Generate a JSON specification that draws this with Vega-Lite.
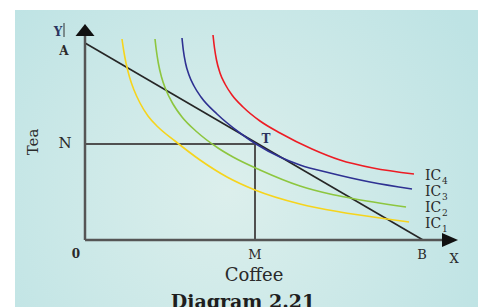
{
  "$schema": "https://vega.github.io/schema/vega-lite/v6.json",
  "width": 478,
  "height": 307,
  "padding": 0,
  "autosize": {"type": "none"},
  "background": "#ffffff",
  "config": {"view": {"stroke": null}},
  "datasets": {
    "panel": [{"x": -70, "x2": 393, "y": -67, "y2": 230}],
    "curves": [
      {"ic": "IC1", "x": 37, "y": 201}, {"ic": "IC1", "x": 38.6, "y": 190}, {"ic": "IC1", "x": 41, "y": 177}, {"ic": "IC1", "x": 44.5, "y": 163}, {"ic": "IC1", "x": 49, "y": 150}, {"ic": "IC1", "x": 55, "y": 137}, {"ic": "IC1", "x": 63, "y": 124}, {"ic": "IC1", "x": 73, "y": 113}, {"ic": "IC1", "x": 90, "y": 99}, {"ic": "IC1", "x": 115, "y": 80}, {"ic": "IC1", "x": 142, "y": 63}, {"ic": "IC1", "x": 170, "y": 50}, {"ic": "IC1", "x": 215, "y": 36}, {"ic": "IC1", "x": 255, "y": 28}, {"ic": "IC1", "x": 302, "y": 21}, {"ic": "IC1", "x": 324, "y": 18},
      {"ic": "IC2", "x": 70, "y": 201}, {"ic": "IC2", "x": 71.3, "y": 190}, {"ic": "IC2", "x": 73.3, "y": 177}, {"ic": "IC2", "x": 76.5, "y": 163}, {"ic": "IC2", "x": 81, "y": 150}, {"ic": "IC2", "x": 88, "y": 136}, {"ic": "IC2", "x": 97, "y": 123}, {"ic": "IC2", "x": 112, "y": 108}, {"ic": "IC2", "x": 133, "y": 92}, {"ic": "IC2", "x": 148, "y": 83}, {"ic": "IC2", "x": 175, "y": 70}, {"ic": "IC2", "x": 215, "y": 54}, {"ic": "IC2", "x": 245, "y": 46}, {"ic": "IC2", "x": 265, "y": 42}, {"ic": "IC2", "x": 321, "y": 33},
      {"ic": "IC3", "x": 97, "y": 202}, {"ic": "IC3", "x": 98.3, "y": 190}, {"ic": "IC3", "x": 100.5, "y": 177}, {"ic": "IC3", "x": 104, "y": 165}, {"ic": "IC3", "x": 109, "y": 154}, {"ic": "IC3", "x": 116, "y": 143}, {"ic": "IC3", "x": 132, "y": 126}, {"ic": "IC3", "x": 155, "y": 107}, {"ic": "IC3", "x": 171, "y": 96}, {"ic": "IC3", "x": 195, "y": 83}, {"ic": "IC3", "x": 215, "y": 75}, {"ic": "IC3", "x": 245, "y": 67}, {"ic": "IC3", "x": 285, "y": 58}, {"ic": "IC3", "x": 327, "y": 51},
      {"ic": "IC4", "x": 128, "y": 205}, {"ic": "IC4", "x": 129.5, "y": 192}, {"ic": "IC4", "x": 131.5, "y": 180}, {"ic": "IC4", "x": 135, "y": 167}, {"ic": "IC4", "x": 140, "y": 156}, {"ic": "IC4", "x": 147, "y": 145}, {"ic": "IC4", "x": 158, "y": 133}, {"ic": "IC4", "x": 175, "y": 119}, {"ic": "IC4", "x": 195, "y": 107}, {"ic": "IC4", "x": 227, "y": 91}, {"ic": "IC4", "x": 255, "y": 80}, {"ic": "IC4", "x": 288, "y": 72}, {"ic": "IC4", "x": 329, "y": 66}
    ],
    "budget": [{"x": 0, "y": 197}, {"x": 338, "y": 0}],
    "guides": [{"x": 0, "y": 96, "x2": 170, "y2": 96}, {"x": 170, "y": 96, "x2": 170, "y2": 0}],
    "axes": [{"x": 0, "y": 0, "x2": 0, "y2": 205}, {"x": 0, "y": 0, "x2": 358, "y2": 0}],
    "ybar": [{"x": -21, "y": 203, "x2": -21, "y2": 217}],
    "arrows": [{"dir": "up", "x": 0, "y": 210}, {"dir": "right", "x": 365, "y": 0}],
    "iclabels": [
      {"label": "IC", "num": "4", "x": 340, "y": 64},
      {"label": "IC", "num": "3", "x": 340, "y": 48},
      {"label": "IC", "num": "2", "x": 340, "y": 32},
      {"label": "IC", "num": "1", "x": 340, "y": 16}
    ]
  },
  "encoding": {
    "x": {"field": "x", "type": "quantitative", "scale": {"domain": [-85, 393], "nice": false, "zero": false}, "axis": null},
    "y": {"field": "y", "type": "quantitative", "scale": {"domain": [-67, 240], "nice": false, "zero": false}, "axis": null}
  },
  "layer": [
    {
      "data": {"name": "panel"},
      "mark": {"type": "rect", "color": {"gradient": "radial", "x1": 0.46, "y1": 0.57, "x2": 0.46, "y2": 0.57, "r1": 0, "r2": 0.62, "stops": [{"offset": 0, "color": "#dcefec"}, {"offset": 1, "color": "#bee3e4"}]}},
      "encoding": {"x2": {"field": "x2"}, "y2": {"field": "y2"}}
    },
    {
      "data": {"name": "guides"},
      "mark": {"type": "rule", "color": "#505050", "strokeWidth": 2},
      "encoding": {"x2": {"field": "x2"}, "y2": {"field": "y2"}}
    },
    {
      "data": {"name": "budget"},
      "mark": {"type": "line", "color": "#262626", "strokeWidth": 1.6},
      "encoding": {}
    },
    {
      "data": {"name": "curves"},
      "mark": {"type": "line", "strokeWidth": 1.6, "interpolate": "monotone"},
      "encoding": {
        "color": {"field": "ic", "type": "nominal", "scale": {"domain": ["IC1", "IC2", "IC3", "IC4"], "range": ["#f6d41c", "#8dc63f", "#2e3192", "#ed1c24"]}, "legend": null},
        "order": {"field": "x", "type": "quantitative"}
      }
    },
    {
      "data": {"name": "axes"},
      "mark": {"type": "rule", "color": "#555555", "strokeWidth": 2.5},
      "encoding": {"x2": {"field": "x2"}, "y2": {"field": "y2"}}
    },
    {
      "data": {"name": "ybar"},
      "mark": {"type": "rule", "color": "#333333", "strokeWidth": 1},
      "encoding": {"x2": {"field": "x2"}, "y2": {"field": "y2"}}
    },
    {
      "data": {"name": "arrows"},
      "mark": {"type": "point", "filled": true, "size": 400, "color": "#111111", "opacity": 1},
      "encoding": {
        "shape": {"field": "dir", "type": "nominal", "scale": {"domain": ["up", "right"], "range": ["M-0.95,0.6L0,-0.6L0.95,0.6Z", "M-0.8,-0.7L0.8,0L-0.8,0.7Z"]}, "legend": null}
      }
    },
    {
      "data": {"values": [{"label": "N", "x": -20, "y": 97}]},
      "mark": {"type": "text", "font": "DejaVu Serif", "fontSize": 15, "color": "#2a2a2a", "baseline": "middle", "align": "center"},
      "encoding": {"text": {"field": "label"}}
    },
    {
      "data": {"values": [{"label": "M", "x": 170, "y": -15}, {"label": "B", "x": 337, "y": -15}, {"label": "X", "x": 369, "y": -19}]},
      "mark": {"type": "text", "font": "DejaVu Serif", "fontSize": 13, "color": "#2a2a2a", "baseline": "middle", "align": "center"},
      "encoding": {"text": {"field": "label"}}
    },
    {
      "data": {"values": [{"label": "A", "x": -21, "y": 189}, {"label": "0", "x": -9, "y": -14}]},
      "mark": {"type": "text", "font": "DejaVu Serif", "fontSize": 12, "fontWeight": "bold", "color": "#2a2a2a", "baseline": "middle", "align": "center"},
      "encoding": {"text": {"field": "label"}}
    },
    {
      "data": {"values": [{"label": "Y", "x": -27, "y": 208}, {"label": "T", "x": 181, "y": 101}]},
      "mark": {"type": "text", "font": "DejaVu Serif", "fontSize": 12, "fontWeight": "bold", "color": "#2b3560", "baseline": "middle", "align": "center"},
      "encoding": {"text": {"field": "label"}}
    },
    {
      "data": {"values": [{"label": "Tea", "x": -52, "y": 98}]},
      "mark": {"type": "text", "font": "DejaVu Serif", "fontSize": 15, "angle": 270, "color": "#2a2a2a", "baseline": "middle", "align": "center"},
      "encoding": {"text": {"field": "label"}}
    },
    {
      "data": {"values": [{"label": "Coffee", "x": 169, "y": -41}]},
      "mark": {"type": "text", "font": "DejaVu Serif", "fontSize": 18, "color": "#2a2a2a", "baseline": "alphabetic", "align": "center"},
      "encoding": {"text": {"field": "label"}}
    },
    {
      "data": {"values": [{"label": "Diagram 2.21", "x": 158, "y": -68}]},
      "mark": {"type": "text", "font": "DejaVu Serif", "fontSize": 19, "fontWeight": "bold", "color": "#1e1e1e", "baseline": "alphabetic", "align": "center"},
      "encoding": {"text": {"field": "label"}}
    },
    {
      "data": {"name": "iclabels"},
      "mark": {"type": "text", "font": "DejaVu Serif", "fontSize": 14, "color": "#2a2a2a", "baseline": "middle", "align": "left"},
      "encoding": {"text": {"field": "label"}}
    },
    {
      "data": {"name": "iclabels"},
      "mark": {"type": "text", "font": "DejaVu Serif", "fontSize": 9, "color": "#2a2a2a", "baseline": "middle", "align": "left", "dx": 17, "dy": 5},
      "encoding": {"text": {"field": "num"}}
    }
  ]
}
